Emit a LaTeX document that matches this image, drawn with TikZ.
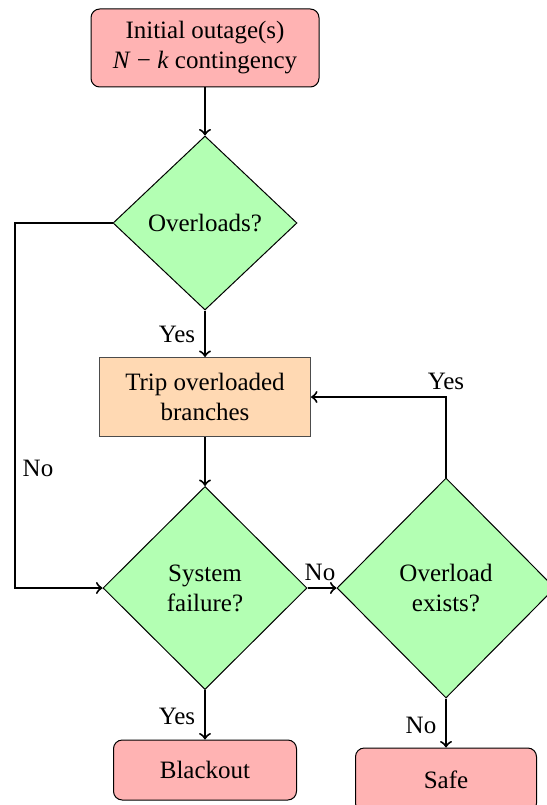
\documentclass[tikz,border=0pt]{standalone}
\usepackage{fontspec}
\setmainfont{Liberation Serif}
\usetikzlibrary{shapes.geometric}
\definecolor{termfill}{RGB}{255,179,179}
\definecolor{decfill}{RGB}{179,255,179}
\definecolor{procfill}{RGB}{255,217,179}
\tikzset{
  termbox/.style={draw, rounded corners=3.5pt, fill=termfill, inner sep=0pt, align=center},
  decbox/.style={draw, diamond, fill=decfill, inner sep=0pt, align=center},
  procbox/.style={draw=black!70, fill=procfill, inner sep=0pt, align=center},
  flow/.style={->, line width=0.8pt},
  lbl/.style={inner sep=0pt}
}
\begin{document}
\begin{tikzpicture}[x=0.4pt,y=-0.4pt]
\useasboundingbox (0,0) rectangle (546,805);

% blocks
\node[termbox, minimum width=91.2pt, minimum height=31.2pt] (init) at (205,48)
  {Initial outage(s)\\\textit{N} − \textit{k} contingency};
\node[decbox, minimum width=73.6pt, minimum height=69.6pt] (over) at (205,223) {Overloads?};
\node[procbox, minimum width=84.4pt, minimum height=31.6pt] (trip) at (205,397)
  {Trip overloaded\\branches};
\node[decbox, minimum width=81.6pt, minimum height=81.2pt] (fail) at (205,588)
  {System\\failure?};
\node[decbox, minimum width=87.2pt, minimum height=88pt] (exist) at (446,588)
  {Overload\\exists?};
\node[termbox, minimum width=73.2pt, minimum height=24pt] (black) at (205,770) {Blackout};
\node[termbox, minimum width=72.4pt, minimum height=25.6pt] (safe) at (446,780) {Safe};

% bend point of the bypass on the left
\coordinate (bypass) at (15,400);

% connectors
\draw[flow] (init) -- (over);
\draw[flow] (over) -- (trip);
\draw[flow] (trip) -- (fail);
\draw[flow] (fail) -- (black);
\draw[flow] (fail) -- (exist);
\draw[flow] (exist) -- (safe);
\draw[flow] (exist.north) |- (trip.east);
\draw[flow] (over.west) -| (bypass) |- (fail.west);

% branch labels
\node[lbl] (yes1) at (177,334) {Yes};
\node[lbl] (yes2) at (177,716) {Yes};
\node[lbl] (yes3) at (446,381) {Yes};
\node[lbl] (no1) at (38,468) {No};
\node[lbl] (no2) at (320,572) {No};
\node[lbl] (no3) at (421,725) {No};
\end{tikzpicture}
\end{document}
